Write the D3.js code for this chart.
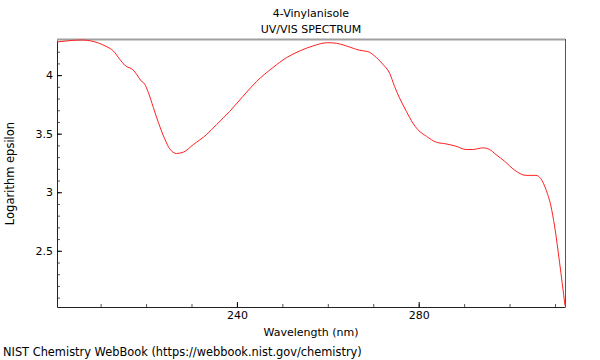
<!DOCTYPE html>
<html>
<head>
<meta charset="utf-8">
<script src="https://cdnjs.cloudflare.com/ajax/libs/d3/7.8.5/d3.min.js"></script>
<style>
    body { margin: 0; background: #fff; }
    text { font-family: "DejaVu Sans", sans-serif; font-size: 11px; fill: #000; }
</style>
</head>
<body>
<div id="chart"></div>
<script>
// spectrum
const wavelengths = [200.4, 202.2, 205.9, 208.0, 211.0, 212.8, 214.2, 215.3, 217.2, 217.9,
    218.9, 219.7, 220.5, 221.6, 222.7, 224.1, 225.2, 226.7, 228.2, 230.4,
    233.3, 235.5, 238.4, 241.3, 244.3, 247.9, 250.9, 253.8, 256.7, 260.0,
    261.9, 264.8, 267.0, 268.8, 270.3, 272.1, 273.6, 274.7, 275.8, 277.3,
    278.7, 279.8, 281.7, 283.9, 286.0, 288.2, 290.4, 291.9, 294.1, 295.6,
    297.0, 298.9, 301.1, 303.6, 305.8, 306.9, 308.0, 309.1, 309.9, 311.0, 312.2];
const logEpsilon = [4.283, 4.291, 4.300, 4.291, 4.249, 4.206, 4.136, 4.085, 4.042, 4.008,
    3.951, 3.923, 3.852, 3.724, 3.597, 3.456, 3.371, 3.331, 3.342, 3.407,
    3.492, 3.577, 3.690, 3.818, 3.945, 4.064, 4.149, 4.206, 4.249, 4.277,
    4.272, 4.240, 4.212, 4.201, 4.164, 4.093, 4.017, 3.903, 3.804, 3.690,
    3.592, 3.535, 3.478, 3.427, 3.413, 3.393, 3.365, 3.365, 3.379, 3.365,
    3.322, 3.265, 3.189, 3.144, 3.144, 3.115, 3.024, 2.882, 2.712, 2.401, 2.032];

const xTicks = [240, 280];
const yTicks = [2.5, 3, 3.5, 4];
const titleLines = ["4-Vinylanisole", "UV/VIS SPECTRUM"];

const width = 600, height = 360;
const margin = {top: 40, right: 35, bottom: 53, left: 57};

const svg = d3.select("#chart").append("svg")
    .attr("width", width)
    .attr("height", height);

const x = d3.scaleLinear()
    .domain([200.4, 312.2])
    .range([margin.left, width - margin.right]);

const y = d3.scaleLinear()
    .domain([2.02, 4.30])
    .range([height - margin.bottom, margin.top]);

const data = wavelengths.map((w, i) => ({w: w, v: logEpsilon[i]}));

// minor ticks
svg.append("g")
    .attr("transform", `translate(0,${height - margin.bottom})`)
    .call(d3.axisBottom(x).tickValues(d3.range(210, 312, 10)).tickSize(-3).tickFormat(""))
    .call(g => g.select(".domain").remove())
    .call(g => g.selectAll("line").attr("stroke", "#555"));

svg.append("g")
    .attr("transform", `translate(${margin.left},0)`)
    .call(d3.axisLeft(y).tickValues(d3.range(21, 43).map(d => d / 10)).tickSize(-3).tickFormat(""))
    .call(g => g.select(".domain").remove())
    .call(g => g.selectAll("line").attr("stroke", "#555"));

// major axes
const xAxis = svg.append("g")
    .attr("transform", `translate(0,${height - margin.bottom})`)
    .call(d3.axisBottom(x).tickValues(xTicks).tickSize(-5).tickPadding(4).tickSizeOuter(0))
    .call(g => g.selectAll("text").style("font-size", "11px").style("font-family", "DejaVu Sans"));

const yAxis = svg.append("g")
    .attr("transform", `translate(${margin.left},0)`)
    .call(d3.axisLeft(y).tickValues(yTicks).tickSize(-5).tickPadding(4).tickSizeOuter(0)
        .tickFormat(d3.format("")))
    .call(g => g.selectAll("text").style("font-size", "11px").style("font-family", "DejaVu Sans"));

xAxis.select(".domain").attr("stroke", "#222");
yAxis.select(".domain").attr("stroke", "#222");

// top and right frame
svg.append("line")
    .attr("x1", margin.left).attr("x2", width - margin.right)
    .attr("y1", margin.top - 0.5).attr("y2", margin.top - 0.5)
    .attr("stroke", "#a0a0a0").attr("stroke-width", 2);

svg.append("line")
    .attr("x1", width - margin.right + 0.5).attr("x2", width - margin.right + 0.5)
    .attr("y1", margin.top - 1).attr("y2", height - margin.bottom)
    .attr("stroke", "#555");

// spectrum
const line = d3.line()
    .x(d => x(d.w))
    .y(d => y(d.v))
    .curve(d3.curveMonotoneX);

svg.append("path")
    .datum(data)
    .attr("fill", "none")
    .attr("stroke", "#ff2020")
    .attr("stroke-width", 1)
    .attr("d", line);

// texts
const cx = (margin.left + width - margin.right) / 2;
svg.selectAll(".title")
    .data(titleLines)
    .enter().append("text")
    .attr("class", "title")
    .attr("x", cx)
    .attr("y", (d, i) => 17 + i * 16)
    .attr("text-anchor", "middle")
    .text(d => d);

svg.append("text")
    .attr("x", cx)
    .attr("y", 336)
    .attr("text-anchor", "middle")
    .text("Wavelength (nm)");

svg.append("text")
    .attr("transform", `translate(14,${(margin.top + height - margin.bottom) / 2}) rotate(-90)`)
    .attr("text-anchor", "middle")
    .style("font-size", "11.5px")
    .text("Logarithm epsilon");

svg.append("text")
    .attr("x", 3)
    .attr("y", 356)
    .style("font-size", "11.4px")
    .text("NIST Chemistry WebBook (https://webbook.nist.gov/chemistry)");
</script>
</body>
</html>
